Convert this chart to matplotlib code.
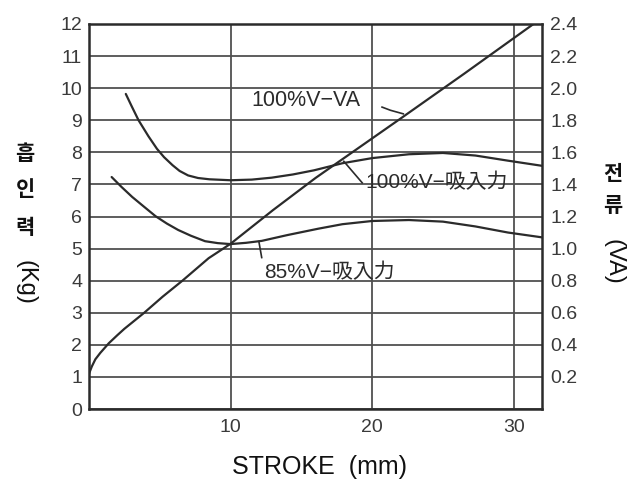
import matplotlib
matplotlib.use("Agg")
import matplotlib.pyplot as plt
from matplotlib.ticker import FormatStrFormatter

# Stroke (mm) vs. suction force (kg) at 100 % and 85 % rated voltage
stroke_100 = [2.6, 3.0, 3.5, 4.2, 4.8, 5.3, 5.9, 6.4, 7.0, 7.7, 8.5, 10.0, 11.5,
              12.9, 14.4, 15.9, 17.9, 20.0, 22.6, 25.0, 27.3, 29.6, 32.0]
force_100 = [9.82, 9.45, 9.0, 8.5, 8.11, 7.85, 7.6, 7.42, 7.28, 7.2, 7.16, 7.13, 7.15,
             7.21, 7.31, 7.44, 7.66, 7.82, 7.94, 7.98, 7.9, 7.74, 7.58]

stroke_85 = [1.6, 2.3, 3.05, 3.9, 4.7, 5.5, 6.3, 7.2, 8.2, 9.1, 10.0, 11.1, 12.2,
             14.0, 16.2, 17.9, 20.0, 22.6, 25.0, 27.3, 29.6, 32.0]
force_85 = [7.23, 6.92, 6.61, 6.3, 6.01, 5.78, 5.58, 5.4, 5.23, 5.17, 5.14, 5.18, 5.24,
            5.42, 5.62, 5.76, 5.86, 5.89, 5.84, 5.69, 5.5, 5.35]

# Stroke (mm) vs. current (VA) at 100 % voltage
stroke_va = [0, 0.2, 0.45, 0.8, 1.4, 2.0, 2.5, 3.2, 3.9, 5.2, 6.6, 8.45, 10.0,
             13.0, 16.0, 22.0, 26.5, 31.4]
current_va = [0.22, 0.265, 0.31, 0.35, 0.41, 0.46, 0.50, 0.55, 0.60, 0.70, 0.80,
              0.94, 1.03, 1.24, 1.44, 1.81, 2.09, 2.4]

x_ticks = [10, 20, 30]
force_ticks = list(range(0, 13))
va_ticks = [0.2, 0.4, 0.6, 0.8, 1.0, 1.2, 1.4, 1.6, 1.8, 2.0, 2.2, 2.4]

LATIN = "Liberation Sans"
CJK_MIX = ["Liberation Sans", "Noto Sans CJK JP"]
KR = "Noto Sans CJK KR"
INK = "#2b2b2b"
GRID = "#505050"

fig = plt.figure(figsize=(6.44, 4.82), dpi=100)
ax = fig.add_axes([89 / 644, 1 - 409 / 482, (542 - 89) / 644, (409 - 24) / 482])

ax.set_xlim(0, 32)
ax.set_ylim(0, 12)
ax.set_xticks(x_ticks)
ax.set_yticks(force_ticks)
ax.grid(True, color=GRID, lw=1.3)
ax.set_axisbelow(True)
ax.tick_params(length=0, labelsize=14, labelcolor="#3a3a3a", pad=5)
ax.tick_params(axis="x", pad=7)
for lab in ax.get_xticklabels() + ax.get_yticklabels():
    lab.set_family(LATIN)
for s in ax.spines.values():
    s.set_linewidth(1.8)
    s.set_color(INK)

ax2 = ax.twinx()
ax2.set_ylim(0, 2.4)
ax2.set_yticks(va_ticks)
ax2.yaxis.set_major_formatter(FormatStrFormatter("%.1f"))
ax2.tick_params(length=0, labelsize=14, labelcolor="#3a3a3a", pad=6)
for lab in ax2.get_yticklabels():
    lab.set_family(LATIN)
for s in ax2.spines.values():
    s.set_visible(False)

line_kw = dict(color=INK, lw=1.6, solid_capstyle="round", solid_joinstyle="round")
ax.plot(stroke_100, force_100, **line_kw)
ax.plot(stroke_85, force_85, **line_kw)
ax2.plot(stroke_va, current_va, **line_kw)

# Curve labels with short leader lines
ax.text(11.5, 9.63, "100%V−VA", family=LATIN, fontsize=15.5, color=INK,
        va="center", ha="left")
ax.plot([20.7, 21.3, 22.2], [9.41, 9.31, 9.2], color=INK, lw=1.2)

ax.text(19.55, 7.05, "100%V−吸入力", family=CJK_MIX, fontsize=15, color=INK,
        va="center", ha="left")
ax.plot([18.0, 19.3], [7.72, 7.05], color=INK, lw=1.2)

ax.text(12.4, 4.25, "85%V−吸入力", family=CJK_MIX, fontsize=15, color=INK,
        va="center", ha="left")
ax.plot([12.0, 12.2], [5.22, 4.72], color=INK, lw=1.2)

# Axis titles
fig.text(319 / 644, 1 - 467 / 482, "STROKE  (mm)", family=LATIN, fontsize=18,
         ha="center", va="center", color="#111111")

for ch, yy in zip(["흡", "인", "력"], [153, 190, 228]):
    fig.text(25 / 644, 1 - yy / 482, ch, family=KR, fontsize=15, weight="bold",
             ha="center", va="center", color="#111111")
fig.text(25 / 644, 1 - 282 / 482, "(Kg)", family=LATIN, fontsize=17, rotation=-90,
         ha="center", va="center", color="#111111")

for ch, yy in zip(["전", "류"], [173, 206]):
    fig.text(613 / 644, 1 - yy / 482, ch, family=KR, fontsize=15, weight="bold",
             ha="center", va="center", color="#111111")
fig.text(613 / 644, 1 - 262 / 482, "(VA)", family=LATIN, fontsize=17, rotation=-90,
         ha="center", va="center", color="#111111")

fig.savefig("out.png", dpi=100)
